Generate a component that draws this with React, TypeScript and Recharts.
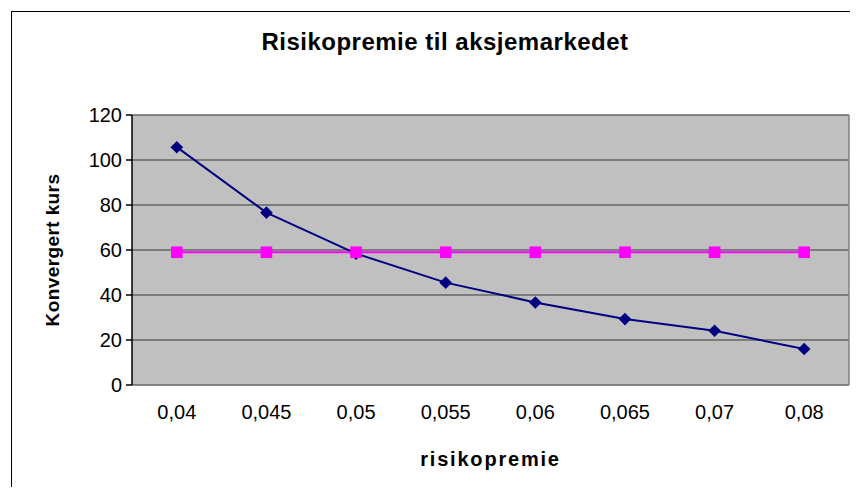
import React from 'react';
import { LineChart, Line, XAxis, YAxis, CartesianGrid, ReferenceLine } from 'recharts';

// risikopremie categories along the x axis
const categories = ['0,04', '0,045', '0,05', '0,055', '0,06', '0,065', '0,07', '0,08'];
// Konvergert kurs per risikopremie
const kursValues = [105.7, 76.6, 58.4, 45.5, 36.7, 29.3, 24.1, 16.0];
// flat reference series (magenta)
const markedValues = [59, 59, 59, 59, 59, 59, 59, 59];
const yTicks = [0, 20, 40, 60, 80, 100, 120];

const data = categories.map((c, i) => ({
    pos: i + 0.5,
    name: c,
    kurs: kursValues[i],
    marked: markedValues[i],
}));

const boundaryTicks = categories.map((_, i) => i).concat([categories.length]);
const centerTicks = data.map((d) => d.pos);

const FONT = '"Liberation Sans", Arial, sans-serif';

const Diamond = (props: any) => {
    const { cx, cy } = props;
    if (cx == null || cy == null) return null;
    const r = 6.3;
    return <path d={`M${cx},${cy - r}L${cx + r},${cy}L${cx},${cy + r}L${cx - r},${cy}Z`} fill="#000080" />;
};

const Square = (props: any) => {
    const { cx, cy } = props;
    if (cx == null || cy == null) return null;
    const s = 5.8;
    return <rect x={cx - s} y={cy - s} width={s * 2} height={s * 2} fill="#FF00FF" />;
};

const App: React.FC = () => {
    return (
        <div style={{ position: 'relative', width: 858, height: 495, margin: -8, background: '#fff', overflow: 'hidden', fontFamily: FONT }}>
            {/* outer chart frame (only left/top visible in the crop) */}
            <div style={{ position: 'absolute', left: 11, top: 11, width: 900, height: 600, borderLeft: '1.5px solid #000', borderTop: '1.5px solid #000' }} />
            <div style={{ position: 'absolute', left: 0, width: 890, top: 30, textAlign: 'center', fontSize: 24, lineHeight: '24px', fontWeight: 'bold', letterSpacing: 0.5, whiteSpace: 'nowrap' }}>
                Risikopremie til aksjemarkedet
            </div>
            <div style={{ position: 'absolute', left: 0, top: 0 }}>
                <LineChart width={858} height={495} data={data} margin={{ top: 115, right: 9, bottom: 20, left: 32 }}>
                    <CartesianGrid horizontal vertical={false} fill="#C0C0C0" stroke="#666666" strokeWidth={1.5} />
                    <XAxis
                        xAxisId="ticks"
                        type="number"
                        dataKey="pos"
                        domain={[0, categories.length]}
                        ticks={boundaryTicks}
                        tick={false}
                        tickSize={6}
                        height={0}
                        axisLine={{ stroke: '#000', strokeWidth: 1.5 }}
                        tickLine={{ stroke: '#000', strokeWidth: 1.5 }}
                    />
                    <XAxis
                        xAxisId="labels"
                        type="number"
                        dataKey="pos"
                        domain={[0, categories.length]}
                        ticks={centerTicks}
                        tickFormatter={(v: number) => categories[Math.floor(v)]}
                        axisLine={false}
                        tickLine={false}
                        tickSize={0}
                        tickMargin={20}
                        height={90}
                        tick={{ fontSize: 20, fill: '#000', fontFamily: FONT }}
                        label={{ value: 'risikopremie', position: 'insideBottom', offset: 9, style: { fontSize: 20, fontWeight: 'bold', letterSpacing: 1.8, fill: '#000', fontFamily: FONT } }}
                    />
                    <YAxis
                        domain={[0, 120]}
                        ticks={yTicks}
                        width={100}
                        tickSize={6}
                        tickMargin={4}
                        interval={0}
                        axisLine={{ stroke: '#000', strokeWidth: 1.5 }}
                        tickLine={{ stroke: '#000', strokeWidth: 1.5 }}
                        tick={{ fontSize: 20, fill: '#000', fontFamily: FONT }}
                        label={{ value: 'Konvergert kurs', angle: -90, position: 'insideLeft', offset: 20, style: { textAnchor: 'middle', fontSize: 19, fontWeight: 'bold', letterSpacing: 0.4, fill: '#000', fontFamily: FONT } }}
                    />
                    <ReferenceLine xAxisId="ticks" x={categories.length} stroke="#808080" strokeWidth={1.5} />
                    <Line xAxisId="labels" type="linear" dataKey="kurs" stroke="#000080" strokeWidth={2} dot={<Diamond />} activeDot={false} isAnimationActive={false} />
                    <Line xAxisId="labels" type="linear" dataKey="marked" stroke="#FF00FF" strokeWidth={2} dot={<Square />} activeDot={false} isAnimationActive={false} />
                </LineChart>
            </div>
        </div>
    );
};

export default App;
